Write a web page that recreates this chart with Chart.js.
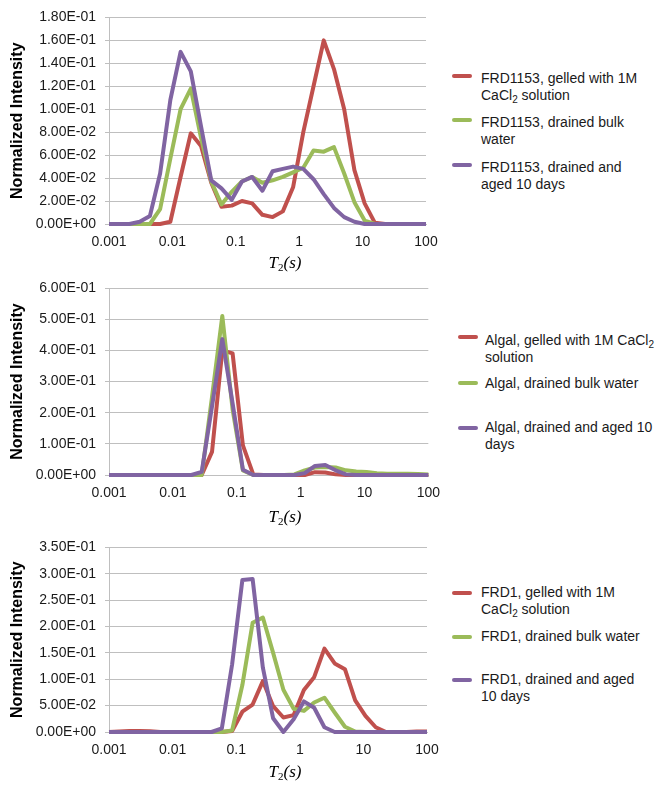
<!DOCTYPE html>
<html>
<head>
<meta charset="utf-8">
<script src="https://cdn.jsdelivr.net/npm/chart.js@4.4.0/dist/chart.umd.min.js"></script>
<style>
html,body{margin:0;padding:0;background:#fff;}
#wrap{position:relative;width:666px;height:792px;overflow:hidden;font-family:'Liberation Sans',Arial,sans-serif;color:#1a1a1a;}
canvas{position:absolute;left:0;}
.leg{position:absolute;font-size:14px;line-height:17px;white-space:nowrap;color:#1a1a1a;}
.mk{position:absolute;width:20px;height:4px;border-radius:2px;}
.xt{position:absolute;font-family:'Liberation Serif','DejaVu Serif',serif;font-style:italic;font-size:17px;line-height:20px;transform:translateX(-50%);white-space:nowrap;color:#000;}
.xt sub{font-size:11px;line-height:0;vertical-align:-3px;font-style:normal;}
.leg sub{font-size:10px;line-height:0;vertical-align:-3px;}
</style>
</head>
<body>
<div id="wrap">
  <canvas id="c1" width="450" height="280" style="top:0px;width:450px;height:280px"></canvas>
  <canvas id="c2" width="450" height="260" style="top:270px;width:450px;height:260px"></canvas>
  <canvas id="c3" width="450" height="262" style="top:530px;width:450px;height:262px"></canvas>

  <div class="xt" style="left:285px;top:253px">T<sub>2</sub>(s)</div>
  <div class="xt" style="left:285px;top:507px">T<sub>2</sub>(s)</div>
  <div class="xt" style="left:285px;top:762px">T<sub>2</sub>(s)</div>

  <!-- legend panel 1 -->
  <div class="mk" style="left:452px;top:74px;background:#c0504d"></div>
  <div class="leg" style="left:481px;top:70px">FRD1153, gelled with 1M<br>CaCl<sub>2</sub> solution</div>
  <div class="mk" style="left:452px;top:118px;background:#9bbb59"></div>
  <div class="leg" style="left:481px;top:114px">FRD1153, drained bulk<br>water</div>
  <div class="mk" style="left:452px;top:163px;background:#8064a2"></div>
  <div class="leg" style="left:481px;top:159px">FRD1153, drained and<br>aged 10 days</div>

  <!-- legend panel 2 -->
  <div class="mk" style="left:458px;top:335px;background:#c0504d"></div>
  <div class="leg" style="left:485px;top:332px">Algal, gelled with 1M CaCl<sub>2</sub><br>solution</div>
  <div class="mk" style="left:458px;top:381px;background:#9bbb59"></div>
  <div class="leg" style="left:485px;top:375px">Algal, drained bulk water</div>
  <div class="mk" style="left:458px;top:426px;background:#8064a2"></div>
  <div class="leg" style="left:485px;top:419px">Algal, drained and aged 10<br>days</div>

  <!-- legend panel 3 -->
  <div class="mk" style="left:452px;top:591px;background:#c0504d"></div>
  <div class="leg" style="left:481px;top:584px">FRD1, gelled with 1M<br>CaCl<sub>2</sub> solution</div>
  <div class="mk" style="left:452px;top:635px;background:#9bbb59"></div>
  <div class="leg" style="left:481px;top:628px">FRD1, drained bulk water</div>
  <div class="mk" style="left:452px;top:678px;background:#8064a2"></div>
  <div class="leg" style="left:481px;top:671px">FRD1, drained and aged<br>10 days</div>
</div>
<script>
// ---- data ----
const T2 = [0.001, 0.00145, 0.0021, 0.00305, 0.00442, 0.0064, 0.00928, 0.01346,
  0.01951, 0.02829, 0.04101, 0.05945, 0.0862, 0.125, 0.1812, 0.2627,
  0.3808, 0.5521, 0.8004, 1.160, 1.682, 2.438, 3.535, 5.125,
  7.430, 10.77, 15.62, 22.64, 32.83, 47.59, 69.00, 100];

const xTickValues = [0.001, 0.01, 0.1, 1, 10, 100];
const xTickLabels = ['0.001', '0.01', '0.1', '1', '10', '100'];

// Panel 1: FRD1153
const frd1153Gelled = [0, 0, 0, 0, 0, 0, 0.002, 0.041,
  0.079, 0.068, 0.036, 0.015, 0.016, 0.020, 0.018, 0.008,
  0.006, 0.011, 0.032, 0.080, 0.120, 0.160, 0.135, 0.100,
  0.047, 0.018, 0.001, 0, 0, 0, 0, 0];
const frd1153Bulk = [0, 0, 0, 0, 0, 0.013, 0.057, 0.100,
  0.118, 0.075, 0.037, 0.017, 0.028, 0.037, 0.041, 0.036,
  0.038, 0.041, 0.045, 0.049, 0.064, 0.063, 0.067, 0.044,
  0.019, 0.003, 0, 0, 0, 0, 0, 0];
const frd1153Aged = [0, 0, 0, 0.002, 0.007, 0.044, 0.108, 0.150,
  0.133, 0.085, 0.038, 0.031, 0.021, 0.037, 0.041, 0.029,
  0.046, 0.048, 0.050, 0.048, 0.039, 0.026, 0.014, 0.006,
  0.002, 0, 0, 0, 0, 0, 0, 0];

// Panel 2: Algal
const algalGelled = [0, 0, 0, 0, 0, 0, 0, 0,
  0, 0, 0.074, 0.400, 0.390, 0.095, 0.002, 0,
  0, 0, 0, 0, 0.009, 0.008, 0.002, 0,
  0, 0, 0, 0, 0, 0, 0, 0];
const algalBulk = [0, 0, 0, 0, 0, 0, 0, 0,
  0, 0, 0.250, 0.510, 0.210, 0.015, 0, 0,
  0, 0, 0.002, 0.015, 0.024, 0.026, 0.024, 0.015,
  0.011, 0.010, 0.006, 0.004, 0.004, 0.004, 0.003, 0.002];
const algalAged = [0, 0, 0, 0, 0, 0, 0, 0,
  0, 0.010, 0.220, 0.436, 0.230, 0.017, 0, 0,
  0, 0, 0, 0.006, 0.029, 0.032, 0.015, 0.002,
  0, 0, 0, 0, 0, 0, 0, 0];

// Panel 3: FRD1
const frd1Gelled = [0, 0.001, 0.002, 0.002, 0.0015, 0, 0, 0,
  0, 0, 0, 0, 0.002, 0.0385, 0.052, 0.0965,
  0.049, 0.0275, 0.032, 0.0795, 0.104, 0.158, 0.130, 0.119,
  0.060, 0.0305, 0.009, 0, 0, 0, 0.001, 0.001];
const frd1Bulk = [0, 0, 0, 0, 0, 0, 0, 0,
  0, 0, 0, 0, 0.003, 0.089, 0.207, 0.217,
  0.150, 0.080, 0.044, 0.040, 0.056, 0.065, 0.037, 0.010,
  0.001, 0, 0, 0, 0, 0, 0, 0];
const frd1Aged = [0, 0, 0, 0, 0, 0, 0, 0,
  0, 0, 0, 0.007, 0.128, 0.288, 0.290, 0.122,
  0.026, 0, 0.024, 0.058, 0.046, 0.009, 0, 0,
  0, 0, 0, 0, 0, 0, 0, 0];

const seriesColors = ['#c0504d', '#9bbb59', '#8064a2'];
const yTitle = 'Normalized Intensity';

// ---- helpers ----
function sci(v) {
  if (Math.abs(v) < 1e-12) return '0.00E+00';
  let e = Math.floor(Math.log10(Math.abs(v)) + 1e-9);
  let s = (v / Math.pow(10, e)).toFixed(2);
  if (s === '10.00') { e++; s = (v / Math.pow(10, e)).toFixed(2); }
  return s + 'E' + (e < 0 ? '-' : '+') + String(Math.abs(e)).padStart(2, '0');
}

const FONT = "'Liberation Sans', Arial, sans-serif";
const GRID = '#bfbfbf';
const TXT = '#1a1a1a';

function makePanel(id, series, yMax, yStep, padTop, padRight, xAxisH) {
  const datasets = series.map((vals, k) => ({
    data: T2.map((x, i) => ({ x: x, y: vals[i] })),
    borderColor: seriesColors[k],
    backgroundColor: seriesColors[k],
    borderWidth: 4,
    pointRadius: 0,
    tension: 0,
    clip: false,
    borderJoinStyle: 'round',
    borderCapStyle: 'butt',
    fill: false,
    order: 3 - k
  }));
  return new Chart(document.getElementById(id), {
    type: 'line',
    data: { datasets },
    options: {
      responsive: false,
      animation: false,
      devicePixelRatio: 1,
      events: [],
      layout: { padding: { top: padTop, right: padRight, left: 0, bottom: 0 } },
      plugins: { legend: { display: false }, tooltip: { enabled: false } },
      scales: {
        x: {
          type: 'logarithmic',
          min: 0.001,
          max: 100,
          afterBuildTicks: (s) => { s.ticks = xTickValues.map(v => ({ value: v })); },
          afterFit: (s) => { s.height = xAxisH; },
          ticks: {
            autoSkip: false,
            maxRotation: 0,
            padding: 10,
            color: TXT,
            font: { family: FONT, size: 14 },
            callback: (v) => { const i = xTickValues.findIndex(t => Math.abs(t - v) / t < 1e-6); return i >= 0 ? xTickLabels[i] : ''; }
          },
          grid: { display: false, drawTicks: false },
          border: { display: true, color: GRID, width: 1 }
        },
        y: {
          type: 'linear',
          min: 0,
          max: yMax,
          afterFit: (s) => { s.width = 109; },
          ticks: {
            stepSize: yStep,
            padding: 9,
            color: TXT,
            font: { family: FONT, size: 14 },
            callback: (v) => sci(v)
          },
          grid: { color: GRID, lineWidth: 1, drawTicks: true, tickLength: 4 },
          border: { display: true, color: GRID, width: 1 },
          title: {
            display: true,
            text: yTitle,
            color: '#000',
            font: { family: FONT, size: 16, weight: 'bold' },
            padding: { top: 8.4, bottom: 0 }
          }
        }
      }
    }
  });
}

makePanel('c1', [frd1153Gelled, frd1153Bulk, frd1153Aged], 0.18, 0.02, 15, 24, 56);
makePanel('c2', [algalGelled, algalBulk, algalAged], 0.6, 0.1, 18, 17, 55);
makePanel('c3', [frd1Gelled, frd1Bulk, frd1Aged], 0.35, 0.05, 11, 23, 60);
</script>
</body>
</html>
